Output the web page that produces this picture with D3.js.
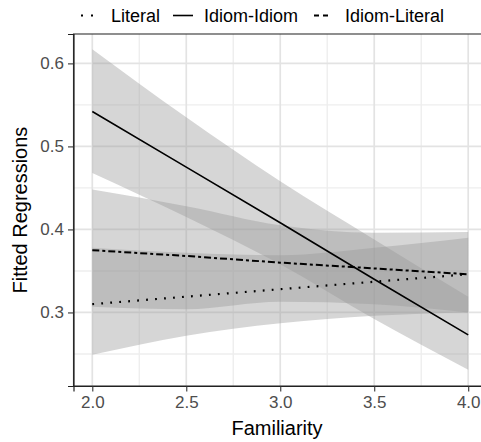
<!DOCTYPE html>
<html>
<head>
<meta charset="utf-8">
<script src="https://cdn.jsdelivr.net/npm/d3@7"></script>
<style>
  html, body { margin: 0; padding: 0; background: #fff; }
  svg { display: block; font-family: "Liberation Sans", Arial, sans-serif; }
</style>
</head>
<body>
<svg id="chart" width="481" height="442"></svg>
<script>
// ---- data ----
const familiarity = [2.0, 2.5, 3.0, 3.5, 4.0];
const seriesNames = ["Literal", "Idiom-Idiom", "Idiom-Literal"];
const literalFit  = [0.310, 0.319, 0.328, 0.337, 0.346];
const literalLo   = [0.249, 0.272, 0.287, 0.296, 0.300];
const literalHi   = [0.378, 0.372, 0.369, 0.378, 0.390];
const idiomIdiomFit = [0.542, 0.475, 0.408, 0.340, 0.273];
const idiomIdiomLo  = [0.468, 0.415, 0.358, 0.292, 0.231];
const idiomIdiomHi  = [0.617, 0.535, 0.458, 0.388, 0.319];
const idiomLiteralFit = [0.375, 0.368, 0.360, 0.353, 0.346];
const idiomLiteralLo  = [0.307, 0.304, 0.313, 0.310, 0.300];
const idiomLiteralHi  = [0.448, 0.428, 0.405, 0.396, 0.397];
const xTicks = [2.0, 2.5, 3.0, 3.5, 4.0];
const xMinor = [2.25, 2.75, 3.25, 3.75];
const yTicks = [0.3, 0.4, 0.5, 0.6];
const yMinor = [0.25, 0.35, 0.45, 0.55];

const series = [
  { name: seriesNames[0], fit: literalFit, lo: literalLo, hi: literalHi, dash: "1.8,7.2", keyDash: "2,8", keyOff: -3, keyW: 20, w: 2.2 },
  { name: seriesNames[1], fit: idiomIdiomFit, lo: idiomIdiomLo, hi: idiomIdiomHi, dash: null, keyDash: null, keyOff: 0, keyW: 20, w: 1.6 },
  { name: seriesNames[2], fit: idiomLiteralFit, lo: idiomLiteralLo, hi: idiomLiteralHi, dash: "7,3,3,3", keyDash: "5,4", keyOff: 0, keyW: 14, w: 2.0 }
];

// ---- layout ----
const svg = d3.select("#chart");
const L = 73.5, R = 487, T = 34, B = 386;
const x = d3.scaleLinear().domain([1.9, 4.1]).range([L, R]);
const y = d3.scaleLinear().domain([0.2114, 0.6354]).range([B, T]);

svg.append("defs").append("clipPath").attr("id", "pc")
  .append("rect").attr("x", L).attr("y", T).attr("width", R - L).attr("height", B - T);

const panel = svg.append("g").attr("clip-path", "url(#pc)");
panel.append("rect").attr("x", L).attr("y", T).attr("width", R - L).attr("height", B - T).attr("fill", "#fff");

// grid
panel.selectAll(".vmin").data(xMinor).enter().append("line")
  .attr("x1", d => x(d)).attr("x2", d => x(d)).attr("y1", T).attr("y2", B)
  .attr("stroke", "#eeeeee").attr("stroke-width", 1.4);
panel.selectAll(".hmin").data(yMinor).enter().append("line")
  .attr("y1", d => y(d)).attr("y2", d => y(d)).attr("x1", L).attr("x2", R)
  .attr("stroke", "#eeeeee").attr("stroke-width", 1.4);
panel.selectAll(".vmaj").data(xTicks).enter().append("line")
  .attr("x1", d => x(d)).attr("x2", d => x(d)).attr("y1", T).attr("y2", B)
  .attr("stroke", "#e3e3e3").attr("stroke-width", 1.7);
panel.selectAll(".hmaj").data(yTicks).enter().append("line")
  .attr("y1", d => y(d)).attr("y2", d => y(d)).attr("x1", L).attr("x2", R)
  .attr("stroke", "#e3e3e3").attr("stroke-width", 1.7);

// ribbons
series.forEach(s => {
  const pts = familiarity.map((f, i) => ({ f, lo: s.lo[i], hi: s.hi[i] }));
  const area = d3.area().x(d => x(d.f)).y0(d => y(d.lo)).y1(d => y(d.hi)).curve(d3.curveMonotoneX);
  panel.append("path").datum(pts).attr("d", area)
    .attr("fill", "#999999").attr("fill-opacity", 0.4);
});

// fitted lines
series.forEach(s => {
  const pts = familiarity.map((f, i) => ({ f, v: s.fit[i] }));
  const line = d3.line().x(d => x(d.f)).y(d => y(d.v));
  panel.append("path").datum(pts).attr("d", line)
    .attr("fill", "none").attr("stroke", "#000").attr("stroke-width", s.w)
    .attr("stroke-dasharray", s.dash);
});

// panel border
svg.append("rect").attr("x", L).attr("y", T).attr("width", R - L).attr("height", B - T)
  .attr("fill", "none").attr("stroke", "#333").attr("stroke-width", 1.1);

// axes
const xAxis = d3.axisBottom(x).tickValues(xTicks).tickFormat(d3.format(".1f")).tickSize(5.5).tickPadding(4);
const gx = svg.append("g").attr("transform", `translate(0,${B})`).call(xAxis);
gx.select(".domain").attr("stroke", "#222").attr("stroke-width", 1.2);
gx.selectAll(".tick line").attr("stroke", "#333").attr("stroke-width", 1.1);
gx.selectAll(".tick text").attr("fill", "#4d4d4d").attr("font-size", 17)
  .attr("font-family", "Liberation Sans, Arial, sans-serif");

const yAxis = d3.axisLeft(y).tickValues(yTicks).tickFormat(d3.format(".1f")).tickSize(5.5).tickPadding(4);
const gy = svg.append("g").attr("transform", `translate(${L},0)`).call(yAxis);
gy.select(".domain").attr("stroke", "#222").attr("stroke-width", 1.2);
gy.selectAll(".tick line").attr("stroke", "#333").attr("stroke-width", 1.1);
gy.selectAll(".tick text").attr("fill", "#4d4d4d").attr("font-size", 17)
  .attr("font-family", "Liberation Sans, Arial, sans-serif");

// axis titles
svg.append("text").attr("x", 277).attr("y", 435)
  .attr("text-anchor", "middle").attr("font-size", 20).attr("fill", "#000").text("Familiarity");
svg.append("text").attr("transform", `translate(27,${(T + B) / 2}) rotate(-90)`)
  .attr("text-anchor", "middle").attr("font-size", 20).attr("fill", "#000").text("Fitted Regressions");

// legend
const legendItems = [
  { s: series[0], kx: 78, tx: 111 },
  { s: series[1], kx: 173, tx: 204 },
  { s: series[2], kx: 314, tx: 345 }
];
const lg = svg.append("g");
legendItems.forEach(it => {
  lg.append("line").attr("x1", it.kx).attr("x2", it.kx + it.s.keyW).attr("y1", 15.5).attr("y2", 15.5)
    .attr("stroke", "#000").attr("stroke-width", it.s.w)
    .attr("stroke-dasharray", it.s.keyDash)
    .attr("stroke-dashoffset", it.s.keyOff);
  lg.append("text").attr("x", it.tx).attr("y", 22).attr("font-size", 18).attr("fill", "#000").text(it.s.name);
});
</script>
</body>
</html>
